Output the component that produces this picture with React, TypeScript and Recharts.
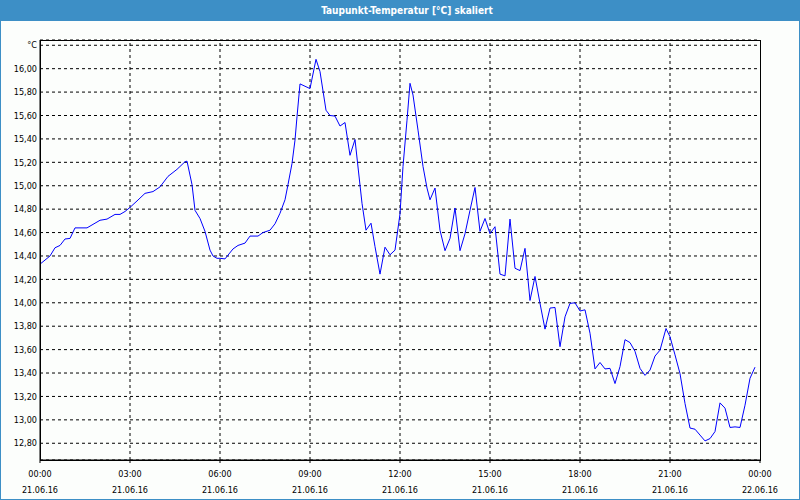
import React from 'react';
import { CartesianGrid, Line, LineChart, ReferenceLine, XAxis, YAxis } from 'recharts';

// minutes since 21.06.16 00:00
const MINUTES = [
  0, 20, 30, 40, 50, 60, 70, 94, 106, 120, 134, 150, 160, 170, 180, 194, 210, 226, 240, 256,
  274, 290, 294, 304, 310, 320, 330, 340, 346, 354, 360, 370, 386, 396, 410, 420, 436, 446, 460, 470,
  480, 490, 496, 504, 510, 514, 520, 530, 540, 552, 560, 572, 580, 590, 600, 610, 620, 630, 636, 644,
  652, 662, 670, 680, 690, 700, 710, 720, 726, 734, 740, 746, 756, 766, 774, 780, 790, 800, 810, 820,
  830, 840, 850, 860, 870, 880, 890, 900, 910, 920, 930, 940, 950, 960, 970, 980, 990, 1000, 1010, 1020,
  1030, 1040, 1050, 1060, 1070, 1080, 1090, 1100, 1110, 1120, 1130, 1140, 1150, 1160, 1170, 1180, 1190, 1200, 1210, 1220,
  1230, 1240, 1252, 1260, 1270, 1280, 1290, 1300, 1310, 1320, 1330, 1340, 1350, 1360, 1370, 1380, 1390, 1400, 1410, 1420,
  1430,
];

const DEW_POINT = [
  14.33, 14.4, 14.47, 14.49, 14.545, 14.55, 14.64, 14.64, 14.67, 14.705, 14.715, 14.755, 14.755, 14.78, 14.815, 14.87, 14.935, 14.95, 14.99, 15.08,
  15.14, 15.205, 15.21, 15.01, 14.79, 14.72, 14.61, 14.45, 14.4, 14.38, 14.38, 14.375, 14.46, 14.49, 14.51, 14.57, 14.57, 14.6, 14.62, 14.675,
  14.765, 14.88, 15.01, 15.19, 15.39, 15.59, 15.87, 15.85, 15.83, 16.08, 15.975, 15.645, 15.6, 15.595, 15.51, 15.54, 15.26, 15.395, 15.16, 14.85,
  14.62, 14.68, 14.48, 14.245, 14.475, 14.41, 14.45, 14.76, 15.165, 15.56, 15.875, 15.775, 15.475, 15.165, 14.98, 14.88, 14.98, 14.62, 14.445, 14.55,
  14.81, 14.445, 14.59, 14.79, 14.985, 14.61, 14.72, 14.59, 14.65, 14.245, 14.23, 14.715, 14.295, 14.275, 14.465, 14.02, 14.225, 13.995, 13.775, 13.955,
  13.96, 13.625, 13.88, 13.995, 14.0, 13.93, 13.94, 13.74, 13.435, 13.49, 13.435, 13.44, 13.31, 13.455, 13.685, 13.66, 13.585, 13.44, 13.38, 13.425,
  13.545, 13.595, 13.78, 13.71, 13.555, 13.395, 13.14, 12.93, 12.92, 12.87, 12.82, 12.84, 12.9, 13.145, 13.1, 12.935, 12.94, 12.935, 13.125, 13.355,
  13.45,
];

const X_MINOR = [0, 60, 120, 180, 240, 300, 360, 420, 480, 540, 600, 660, 720, 780, 840, 900, 960, 1020, 1080, 1140, 1200, 1260, 1320, 1380, 1440];
const X_MAJOR = [0, 180, 360, 540, 720, 900, 1080, 1260, 1440];
const TIME_LABELS = ['00:00', '03:00', '06:00', '09:00', '12:00', '15:00', '18:00', '21:00', '00:00'];
const DATE_LABELS = ['21.06.16', '21.06.16', '21.06.16', '21.06.16', '21.06.16', '21.06.16', '21.06.16', '21.06.16', '22.06.16'];

const Y_TICKS = [12.8, 13.0, 13.2, 13.4, 13.6, 13.8, 14.0, 14.2, 14.4, 14.6, 14.8, 15.0, 15.2, 15.4, 15.6, 15.8, 16.0, 16.2];
const Y_UNIT = '°C';

const data = MINUTES.map((t, i) => ({ t, v: DEW_POINT[i] }));

const FONT = "'DejaVu Sans Condensed', 'DejaVu Sans', sans-serif";
const BLUE = '#3d8fc6';

const XTick = (props: any) => {
  const { x, y, payload } = props;
  const i = X_MAJOR.indexOf(payload.value);
  if (i < 0) return <g />;
  return (
    <text x={x} y={y} textAnchor="middle" fontSize={9} fontFamily={FONT} fill="#000">
      <tspan x={x} dy={11.7}>{TIME_LABELS[i]}</tspan>
      <tspan x={x} dy={16}>{DATE_LABELS[i]}</tspan>
    </text>
  );
};

const fmtY = (v: number) => (Math.abs(v - 16.2) < 1e-6 ? Y_UNIT : v.toFixed(2).replace('.', ','));

export default function App() {
  return (
    <div style={{ position: 'absolute', left: 0, top: 0, width: 800, height: 500, background: '#fcfefc' }}>
      <LineChart width={800} height={500} data={data} margin={{ top: 40, right: 40, bottom: 0, left: 0 }}>
        <CartesianGrid stroke="#000" strokeDasharray="3 3" vertical={false} />
        {X_MAJOR.slice(1, -1).map((v) => (
          <ReferenceLine key={v} x={v} stroke="#000" strokeDasharray="3 3" />
        ))}
        {/* hourly tick marks only */}
        <XAxis
          xAxisId="minor"
          dataKey="t"
          type="number"
          domain={[0, 1440]}
          ticks={X_MINOR}
          interval={0}
          height={0}
          tickSize={3}
          axisLine={false}
          stroke="#000"
          tick={<g />}
        />
        <XAxis
          dataKey="t"
          type="number"
          domain={[0, 1440]}
          ticks={X_MAJOR}
          interval={0}
          height={40}
          tickSize={3}
          tickMargin={2}
          stroke="#000"
          tick={<XTick />}
        />
        <YAxis
          type="number"
          domain={[12.657, 16.245]}
          ticks={Y_TICKS}
          interval={0}
          width={40}
          tickLine={false}
          tickSize={0}
          tickMargin={3}
          stroke="#000"
          tick={{ fontSize: 9, fontFamily: FONT, fill: '#000' }}
          tickFormatter={fmtY}
          allowDataOverflow
        />
        <Line
          type="linear"
          dataKey="v"
          stroke="#0000ff"
          strokeWidth={1}
          dot={false}
          activeDot={false}
          isAnimationActive={false}
        />
      </LineChart>
      {/* plot frame */}
      <div
        style={{
          position: 'absolute',
          left: 40,
          top: 40,
          width: 721,
          height: 421,
          border: '1px solid #000',
          boxSizing: 'border-box',
          pointerEvents: 'none',
        }}
      />
      <div
        style={{
          position: 'absolute',
          left: 0,
          top: 0,
          width: 800,
          height: 21,
          background: BLUE,
          color: '#fff',
          fontFamily: FONT,
          fontWeight: 'bold',
          fontSize: 10,
          lineHeight: '21px',
          textAlign: 'center',
          paddingLeft: 14,
          boxSizing: 'border-box',
        }}
      >
        Taupunkt-Temperatur [°C] skaliert
      </div>
      <div
        style={{
          position: 'absolute',
          left: 0,
          top: 0,
          width: 800,
          height: 500,
          border: `1px solid ${BLUE}`,
          boxSizing: 'border-box',
          pointerEvents: 'none',
        }}
      />
    </div>
  );
}
